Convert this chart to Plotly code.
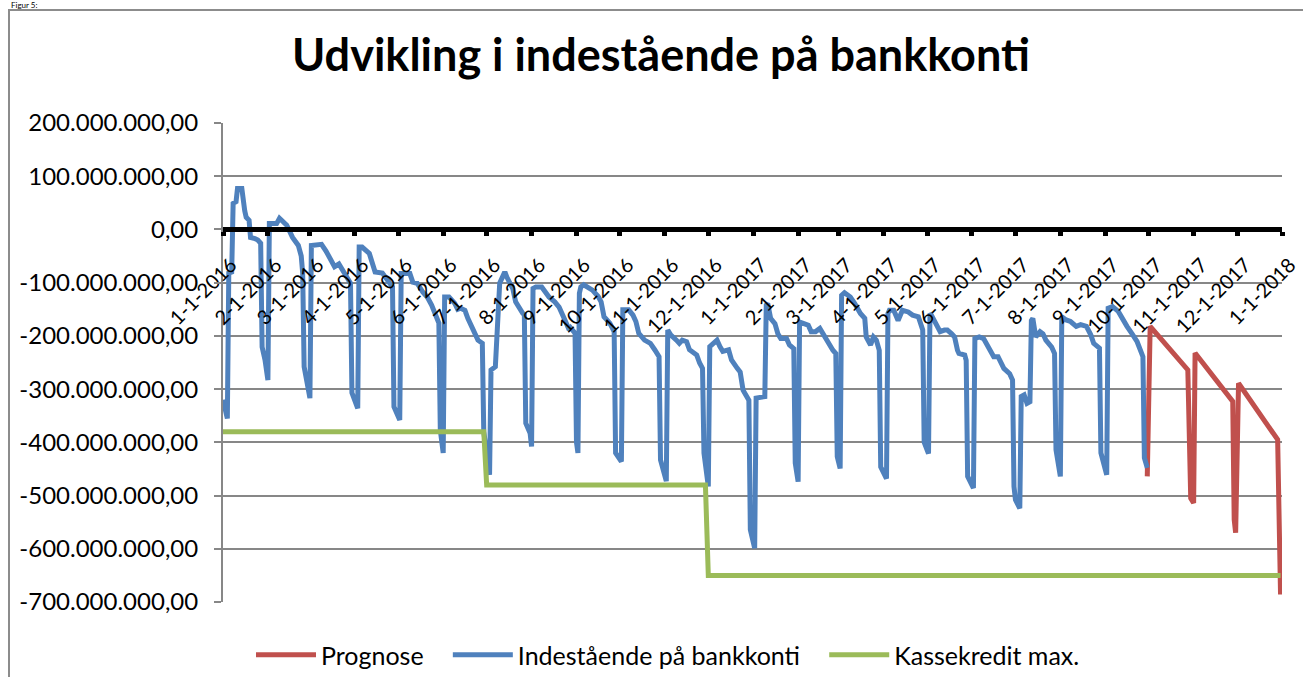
import plotly.graph_objects as go

# ---------------- data (values in millions DKK) ----------------
blue_dates = [
    "2016-01-01", "2016-01-02", "2016-01-04", "2016-01-05", "2016-01-07", "2016-01-08", "2016-01-10",
    "2016-01-11", "2016-01-14", "2016-01-16", "2016-01-17", "2016-01-19", "2016-01-20", "2016-01-23",
    "2016-01-25", "2016-01-27", "2016-01-28", "2016-01-30", "2016-02-01",
    "2016-02-02", "2016-02-07", "2016-02-09", "2016-02-14", "2016-02-18", "2016-02-22", "2016-02-24",
    "2016-02-25", "2016-02-26", "2016-02-28", "2016-03-01",
    "2016-03-02", "2016-03-09", "2016-03-12", "2016-03-16", "2016-03-18", "2016-03-21", "2016-03-24",
    "2016-03-27", "2016-03-29", "2016-03-30", "2016-04-03",
    "2016-04-04", "2016-04-06", "2016-04-11", "2016-04-13", "2016-04-15", "2016-04-20", "2016-04-23",
    "2016-04-27", "2016-04-28", "2016-05-02",
    "2016-05-03", "2016-05-09", "2016-05-11", "2016-05-14", "2016-05-18", "2016-05-21", "2016-05-24",
    "2016-05-27", "2016-05-29", "2016-05-30", "2016-06-01",
    "2016-06-02", "2016-06-05", "2016-06-09", "2016-06-11", "2016-06-13", "2016-06-16", "2016-06-18",
    "2016-06-21", "2016-06-25", "2016-06-28", "2016-06-29", "2016-07-03",
    "2016-07-04", "2016-07-07", "2016-07-10", "2016-07-13", "2016-07-14", "2016-07-15", "2016-07-17",
    "2016-07-19", "2016-07-21", "2016-07-24", "2016-07-26", "2016-07-27", "2016-07-28", "2016-07-31",
    "2016-08-01",
    "2016-08-02", "2016-08-04", "2016-08-08", "2016-08-11", "2016-08-13", "2016-08-17", "2016-08-20",
    "2016-08-24", "2016-08-27", "2016-08-28", "2016-08-31", "2016-09-01", "2016-09-02",
    "2016-09-03", "2016-09-04", "2016-09-06", "2016-09-10", "2016-09-12", "2016-09-16", "2016-09-18",
    "2016-09-20", "2016-09-24", "2016-09-27", "2016-09-28", "2016-10-02",
    "2016-10-03", "2016-10-07", "2016-10-10", "2016-10-12", "2016-10-14", "2016-10-18", "2016-10-22",
    "2016-10-25", "2016-10-28", "2016-10-29", "2016-11-02",
    "2016-11-03", "2016-11-05", "2016-11-09", "2016-11-11", "2016-11-13", "2016-11-16", "2016-11-18",
    "2016-11-23", "2016-11-25", "2016-11-27", "2016-11-28", "2016-12-01",
    "2016-12-02", "2016-12-05", "2016-12-07", "2016-12-09", "2016-12-11", "2016-12-15", "2016-12-17",
    "2016-12-21", "2016-12-23", "2016-12-25", "2016-12-29", "2016-12-30", "2017-01-02",
    "2017-01-03", "2017-01-09", "2017-01-10", "2017-01-11", "2017-01-13", "2017-01-16", "2017-01-18",
    "2017-01-20", "2017-01-24", "2017-01-26", "2017-01-29", "2017-01-30", "2017-02-01",
    "2017-02-02", "2017-02-05", "2017-02-08", "2017-02-10", "2017-02-13", "2017-02-16", "2017-02-18",
    "2017-02-21", "2017-02-25", "2017-02-27", "2017-02-28", "2017-03-02",
    "2017-03-03", "2017-03-05", "2017-03-09", "2017-03-12", "2017-03-16", "2017-03-19", "2017-03-20",
    "2017-03-23", "2017-03-25", "2017-03-27", "2017-03-29", "2017-03-30", "2017-04-03",
    "2017-04-04", "2017-04-05", "2017-04-08", "2017-04-11", "2017-04-14", "2017-04-18", "2017-04-21",
    "2017-04-25", "2017-04-28", "2017-04-29", "2017-05-02",
    "2017-05-03", "2017-05-04", "2017-05-07", "2017-05-10", "2017-05-13", "2017-05-15", "2017-05-18",
    "2017-05-20", "2017-05-22", "2017-05-23", "2017-05-27", "2017-05-28", "2017-05-29", "2017-06-02",
    "2017-06-03", "2017-06-06", "2017-06-09", "2017-06-12", "2017-06-16", "2017-06-19", "2017-06-21",
    "2017-06-23", "2017-06-27", "2017-06-29", "2017-06-30", "2017-07-01", "2017-07-04",
    "2017-07-05", "2017-07-07", "2017-07-09", "2017-07-11", "2017-07-12", "2017-07-13", "2017-07-15",
    "2017-07-18", "2017-07-20", "2017-07-22", "2017-07-26", "2017-07-28", "2017-07-29", "2017-08-01",
    "2017-08-02", "2017-08-05", "2017-08-08", "2017-08-12", "2017-08-15", "2017-08-19", "2017-08-22",
    "2017-08-24", "2017-08-28", "2017-08-29", "2017-09-02",
    "2017-09-03", "2017-09-06", "2017-09-10", "2017-09-13", "2017-09-16", "2017-09-20", "2017-09-23",
    "2017-09-27", "2017-09-28", "2017-09-30",
]
blue_values = [
    -320, -335, -355, -82, -80, 49, 52,
    77, 77, 35, 23, 17, -15, -17,
    -20, -26, -221, -245, -283,
    11, 11, 21, 8, -15, -30, -50,
    -82, -258, -290, -317,
    -30, -28, -40, -58, -70, -65, -77,
    -89, -101, -307, -336,
    -33, -33, -45, -64, -80, -82, -95,
    -108, -333, -358,
    -83, -83, -99, -101, -118, -127, -142,
    -164, -176, -377, -420,
    -127, -127, -139, -150, -148, -152, -167,
    -183, -208, -214, -380, -461,
    -264, -258, -101, -83, -83, -90, -101,
    -111, -136, -151, -158, -160, -364, -383,
    -408,
    -111, -108, -108, -120, -127, -136, -146,
    -170, -189, -185, -195, -400, -420,
    -120, -108, -104, -111, -114, -126, -136,
    -164, -176, -192, -420, -436,
    -151, -151, -161, -173, -195, -208, -214,
    -226, -239, -433, -473,
    -189, -198, -208, -214, -208, -211, -226,
    -236, -251, -261, -420, -483,
    -220, -211, -208, -220, -229, -226, -245,
    -261, -268, -302, -321, -564, -599,
    -317, -314, -142, -139, -167, -177, -196,
    -205, -205, -217, -224, -439, -474,
    -174, -177, -180, -192, -192, -186, -196,
    -208, -227, -233, -427, -449,
    -124, -119, -127, -139, -158, -167, -202,
    -217, -202, -208, -227, -446, -468,
    -158, -152, -152, -171, -152, -155, -161,
    -164, -189, -400, -421,
    -158, -161, -177, -192, -189, -189, -196,
    -202, -227, -233, -236, -246, -464, -486,
    -205, -202, -205, -221, -239, -239, -252,
    -261, -271, -283, -483, -508, -524,
    -314, -311, -327, -324, -171, -167, -202,
    -192, -196, -208, -221, -233, -414, -464,
    -164, -170, -173, -182, -179, -182, -198,
    -214, -223, -420, -461,
    -148, -145, -154, -170, -182, -198, -211,
    -239, -429, -448,
]

red_dates = [
    "2017-09-30", "2017-10-02", "2017-10-28", "2017-10-30", "2017-11-01", "2017-11-02",
    "2017-11-28", "2017-11-29", "2017-11-30", "2017-12-02", "2017-12-29", "2017-12-31",
]
red_values = [-464, -182, -264, -505, -514, -232, -323, -545, -570, -289, -395, -686]

green_dates = ["2016-01-01", "2016-06-29", "2016-07-01", "2016-11-29", "2016-12-01", "2017-12-31"]
green_values = [-380, -380, -480, -480, -650, -650]

y_tickvals = [200, 100, 0, -100, -200, -300, -400, -500, -600, -700]
y_ticktext = ["200.000.000,00", "100.000.000,00", "0,00", "-100.000.000,00", "-200.000.000,00",
              "-300.000.000,00", "-400.000.000,00", "-500.000.000,00", "-600.000.000,00",
              "-700.000.000,00"]

x_tickvals = [
    "2016-01-01", "2016-02-01", "2016-03-01", "2016-04-01", "2016-05-01", "2016-06-01",
    "2016-07-01", "2016-08-01", "2016-09-01", "2016-10-01", "2016-11-01", "2016-12-01",
    "2017-01-01", "2017-02-01", "2017-03-01", "2017-04-01", "2017-05-01", "2017-06-01",
    "2017-07-01", "2017-08-01", "2017-09-01", "2017-10-01", "2017-11-01", "2017-12-01",
    "2018-01-01",
]
x_ticktext = [
    "1-1-2016", "2-1-2016", "3-1-2016", "4-1-2016", "5-1-2016", "6-1-2016",
    "7-1-2016", "8-1-2016", "9-1-2016", "10-1-2016", "11-1-2016", "12-1-2016",
    "1-1-2017", "2-1-2017", "3-1-2017", "4-1-2017", "5-1-2017", "6-1-2017",
    "7-1-2017", "8-1-2017", "9-1-2017", "10-1-2017", "11-1-2017", "12-1-2017",
    "1-1-2018",
]

series_names = ["Prognose", "Indestående på bankkonti", "Kassekredit max."]

RED = "#C0504D"
BLUE = "#4F81BD"
GREEN = "#9BBB59"
GRID = "#878787"
FONT = "Lato"
PAD = "\u00a0\u00a0\u00a0"  # extra spacing between legend entries

fig = go.Figure()
fig.add_trace(go.Scatter(x=red_dates, y=red_values, mode="lines", name=series_names[0] + PAD,
                         line=dict(color=RED, width=5)))
fig.add_trace(go.Scatter(x=blue_dates, y=blue_values, mode="lines", name=series_names[1] + PAD,
                         line=dict(color=BLUE, width=5)))
fig.add_trace(go.Scatter(x=green_dates, y=green_values, mode="lines", name=series_names[2],
                         line=dict(color=GREEN, width=5)))

W, H = 1303, 677
L, R, T, B = 223, 21, 123, 75
plot_w = W - L - R
plot_h = H - T - B

fig.update_layout(
    width=W, height=H,
    margin=dict(l=L, r=R, t=T, b=B, autoexpand=False),
    paper_bgcolor="white", plot_bgcolor="white",
    font=dict(family=FONT, color="black"),
    title=dict(text="<b>Udvikling i indestående på bankkonti</b>",
               xref="container", yref="container", x=661 / W, y=1 - 55 / H,
               xanchor="center", yanchor="middle",
               font=dict(family=FONT, size=45, color="black")),
    showlegend=True,
    legend=dict(orientation="h", xref="container", yref="container",
                x=668 / W, y=1 - 655 / H, xanchor="center", yanchor="middle",
                font=dict(family=FONT, size=25, color="black"),
                bgcolor="rgba(0,0,0,0)", itemwidth=60),
    xaxis=dict(type="date", range=["2016-01-01", "2018-01-01"],
               tickvals=x_tickvals, ticktext=x_ticktext, tickangle=-45,
               tickfont=dict(family=FONT, size=20, color="black"),
               showgrid=False, zeroline=False,
               showline=True, linecolor="black", linewidth=5,
               ticks="outside", ticklen=4, tickwidth=5, tickcolor="black",
               ticklabelshift=8, ticklabelstandoff=9,
               anchor="free", position=7 / 9),
    yaxis=dict(range=[-700, 200], tickvals=y_tickvals, ticktext=y_ticktext,
               tickfont=dict(family=FONT, size=24, color="black"),
               showgrid=True, gridcolor=GRID, gridwidth=2, zeroline=False,
               showline=True, linecolor=GRID, linewidth=2,
               ticks="outside", ticklen=7, tickwidth=2, tickcolor=GRID,
               ticklabelstandoff=11),
    shapes=[dict(type="rect", xref="paper", yref="paper",
                 x0=(9 - L) / plot_w, x1=(W + 20 - L) / plot_w,
                 y0=-(H + 20 - T - plot_h) / plot_h, y1=(T + plot_h - 10) / plot_h,
                 line=dict(color="#8c8c8c", width=2), fillcolor="rgba(0,0,0,0)", layer="below")],
    annotations=[dict(text="Figur 5:", xref="paper", yref="paper",
                      x=(10 - L) / plot_w, y=(T + plot_h - 11) / plot_h,
                      xanchor="left", yanchor="bottom", showarrow=False, borderpad=0,
                      font=dict(family=FONT, size=8, color="black"))],
)

fig.write_html("out.html", config={"displayModeBar": False},
               post_script="document.body.style.margin='0';")
